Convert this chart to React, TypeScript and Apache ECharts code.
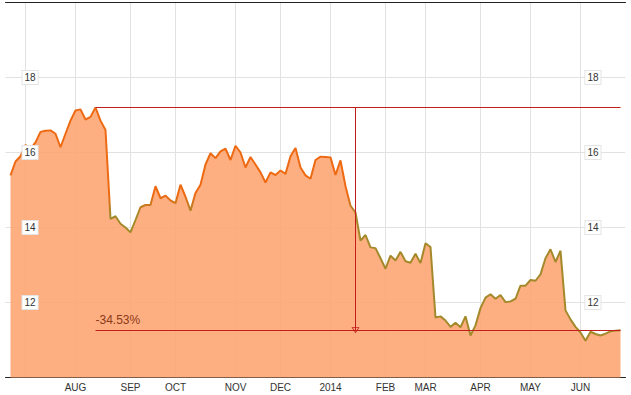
import React, { useEffect, useRef } from 'react';
import * as echarts from 'echarts';

// Closing values (one value every ~2 trading days), Jun 2013 – Jun 2014
const prices: number[] = [
  15.39, 15.76, 15.9, 16.2, 16.1, 16.27, 16.55, 16.58, 16.59, 16.5,
  16.14, 16.5, 16.85, 17.12, 17.15, 16.88, 16.95, 17.2, 16.85, 16.6,
  14.23, 14.3, 14.1, 14.0, 13.87, 14.2, 14.54, 14.6, 14.6, 15.1,
  14.78, 14.85, 14.72, 14.65, 15.14, 14.82, 14.45, 14.92, 15.14, 15.68,
  15.98, 15.85, 16.03, 16.1, 15.8, 16.18, 16.0, 15.6, 15.88, 15.68,
  15.47, 15.2, 15.47, 15.4, 15.52, 15.43, 15.9, 16.12, 15.6, 15.39,
  15.3, 15.8, 15.89, 15.88, 15.87, 15.4, 15.79, 15.1, 14.58, 14.4,
  13.65, 13.8, 13.47, 13.45, 13.18, 12.9, 13.25, 13.12, 13.35, 13.1,
  13.06, 13.3, 13.05, 13.58, 13.48, 11.6, 11.63, 11.52, 11.35, 11.46,
  11.34, 11.63, 11.12, 11.39, 11.85, 12.13, 12.22, 12.1, 12.2, 12.01,
  12.03, 12.1, 12.45, 12.45, 12.6, 12.58, 12.75, 13.18, 13.42, 13.08,
  13.38, 11.79, 11.55, 11.35, 11.2, 10.98, 11.22, 11.16, 11.12, 11.17,
  11.23, 11.25, 11.26,
];

const monthLabels = ['AUG', 'SEP', 'OCT', 'NOV', 'DEC', '2014', 'FEB', 'MAR', 'APR', 'MAY', 'JUN'];
const monthLabelIdx = [13, 24, 33, 45, 54, 64, 75, 83, 94, 104, 114];
const julyIdx = 3;
const yMin = 10;
const yMax = 20;
const yStep = 2;
const colourSplit = 14.6; // line turns from orange to olive below this value

const FONT = '"Liberation Sans", Arial, sans-serif';
const ARROW = 'path://M7,0L14,10L0,10Z M7,2.6L2.5,8.8L11.5,8.8Z';
const RED = '#C41E1A';

export default function App() {
  const ref = useRef<HTMLDivElement>(null);

  useEffect(() => {
    if (!ref.current) return;
    const chart = echarts.init(ref.current, undefined, { renderer: 'svg' });

    // one empty category on each side
    const data: (number | null)[] = [null, ...prices, null];
    const cats = data.map((_, i) => 'c' + i);
    const labelMap: Record<string, string> = {};
    monthLabelIdx.forEach((idx, j) => {
      labelMap['c' + (idx + 1)] = monthLabels[j];
    });
    const labelSet = new Set(monthLabelIdx.map((i) => i + 1));
    const gridSet = new Set([julyIdx, ...monthLabelIdx].map((i) => i + 1));

    const maxV = Math.max(...prices);
    const minV = Math.min(...prices);
    const maxK = prices.indexOf(maxV) + 1;
    const lastV = prices[prices.length - 1];
    const lastK = prices.length;
    const midK = Math.floor((maxK + lastK) / 2);
    const pct = (((lastV - maxV) / maxV) * 100).toFixed(2) + '%';
    const f = (maxV - colourSplit) / (maxV - minV);

    const lineGradient = new echarts.graphic.LinearGradient(0, 0, 0, 1, [
      { offset: 0, color: '#EE6A12' },
      { offset: Math.max(0, f - 0.04), color: '#EE6A12' },
      { offset: Math.min(1, f + 0.04), color: '#A3892A' },
      { offset: 1, color: '#A3892A' },
    ]);

    const labelBox = {
      inside: true,
      fontSize: 10,
      fontFamily: FONT,
      color: '#333',
      backgroundColor: '#fff',
      borderColor: '#e4e4e4',
      borderWidth: 1,
      padding: [2, 2, 1, 2],
      showMinLabel: false,
      showMaxLabel: false,
    };

    const redLine = { color: RED, width: 1, type: 'solid', opacity: 1 };

    chart.setOption({
      animation: false,
      grid: { left: 5.5, right: 5.5, top: 2.5, bottom: 17.5, containLabel: false },
      xAxis: [
        {
          type: 'category',
          data: cats,
          boundaryGap: false,
          axisLine: { lineStyle: { color: '#222', width: 1 } },
          axisTick: { show: false },
          axisLabel: {
            interval: (i: number) => labelSet.has(i),
            formatter: (v: string) => labelMap[v] || '',
            fontSize: 10,
            fontFamily: FONT,
            color: '#333',
            margin: 5,
          },
          splitLine: {
            show: true,
            interval: (i: number) => gridSet.has(i),
            lineStyle: { color: '#e2e2e2', width: 1 },
          },
        },
        {
          type: 'category',
          data: cats,
          position: 'top',
          boundaryGap: false,
          axisLine: { lineStyle: { color: '#222', width: 1 } },
          axisTick: { show: false },
          axisLabel: { show: false },
          splitLine: { show: false },
        },
      ],
      yAxis: [
        {
          type: 'value',
          min: yMin,
          max: yMax,
          interval: yStep,
          axisLine: { show: false },
          axisTick: { show: false },
          axisLabel: { show: false },
          splitLine: { show: true, lineStyle: { color: '#e2e2e2', width: 1 } },
        },
        {
          type: 'value',
          position: 'left',
          min: yMin,
          max: yMax,
          interval: yStep,
          z: 10,
          axisLine: { show: false },
          axisTick: { show: false },
          splitLine: { show: false },
          axisLabel: { ...labelBox, margin: 17 },
        },
        {
          type: 'value',
          position: 'right',
          min: yMin,
          max: yMax,
          interval: yStep,
          z: 10,
          axisLine: { show: false },
          axisTick: { show: false },
          splitLine: { show: false },
          axisLabel: { ...labelBox, margin: 25 },
        },
      ],
      series: [
        {
          type: 'line',
          data,
          xAxisIndex: 0,
          yAxisIndex: 0,
          showSymbol: false,
          color: '#EE6A12',
          lineStyle: { width: 2, color: lineGradient },
          areaStyle: { color: 'rgb(253,166,115)', opacity: 0.9 },
        },
        {
          // carrier for the drawdown annotation
          type: 'line',
          data,
          xAxisIndex: 0,
          yAxisIndex: 0,
          showSymbol: false,
          silent: true,
          color: RED,
          lineStyle: { opacity: 0, width: 0 },
          z: 5,
          markLine: {
            silent: true,
            animation: false,
            symbol: ['none', 'none'],
            lineStyle: redLine,
            label: { show: false },
            data: [
              [
                { coord: [maxK, maxV] },
                { coord: [lastK, maxV] },
              ],
              [
                {
                  coord: [maxK, lastV],
                  label: {
                    show: true,
                    formatter: pct,
                    position: 'insideStartTop',
                    distance: [0, 4],
                    color: '#8B3A1A',
                    fontSize: 12,
                    fontFamily: FONT,
                  },
                },
                { coord: [lastK, lastV] },
              ],
              [
                { coord: [midK, maxV] },
                {
                  coord: [midK, lastV],
                  symbol: ARROW,
                  symbolSize: [8, 6],
                },
              ],
            ],
          },
        },
      ],
    });

    return () => chart.dispose();
  }, []);

  return (
    <div
      ref={ref}
      style={{ position: 'absolute', left: 0, top: 0, width: 631, height: 395 }}
    />
  );
}
